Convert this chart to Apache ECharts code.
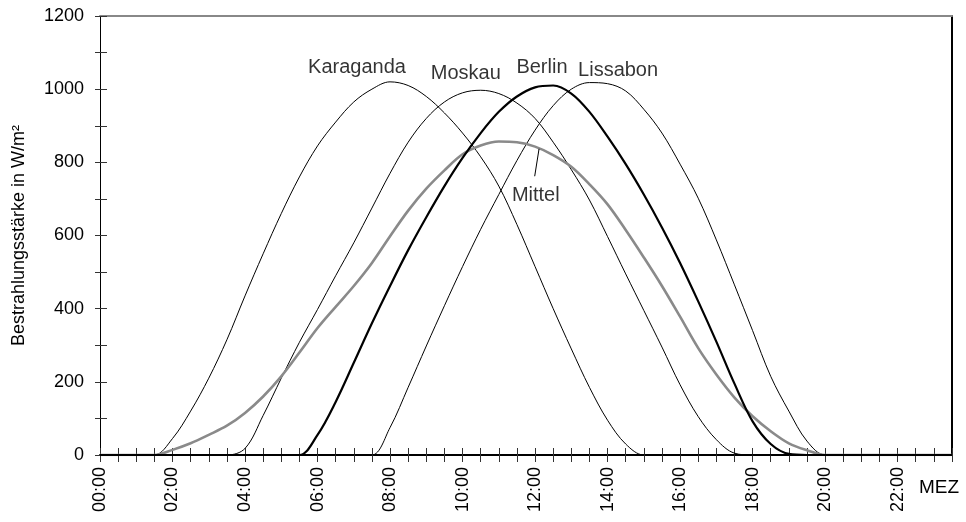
<!DOCTYPE html>
<html>
<head>
<meta charset="utf-8">
<script src="https://cdn.jsdelivr.net/npm/echarts@6/dist/echarts.min.js"></script>
<style>html,body{margin:0;padding:0;background:#fff}#c{width:966px;height:522px}</style>
</head>
<body>
<div id="c"></div>
<script>
// half-hour steps from 00:00 to 23:30
const hours = [0,0.5,1,1.5,2,2.5,3,3.5,4,4.5,5,5.5,6,6.5,7,7.5,8,8.5,9,9.5,10,10.5,11,11.5,12,12.5,13,13.5,14,14.5,15,15.5,16,16.5,17,17.5,18,18.5,19,19.5,20,20.5,21,21.5,22,22.5,23,23.5];
const karaganda = [0,0,0,0,45,120,210,315,435,550,660,760,845,910,965,1000,1020,1010,980,935,880,815,735,630,515,400,290,185,95,30,0,0,0,0,0,0,0,0,0,0,0,0,0,0,0,0,0,0];
const moskau    = [0,0,0,0,0,0,0,0,18,108,210,308,398,490,580,675,770,855,920,965,990,997,988,962,920,855,780,697,597,495,395,295,192,105,42,5,0,0,0,0,0,0,0,0,0,0,0,0];
const berlin    = [0,0,0,0,0,0,0,0,0,0,0,0,55,145,252,360,462,560,650,735,812,880,938,980,1005,1010,988,938,870,795,712,622,525,420,310,195,92,30,3,0,0,0,0,0,0,0,0,0];
const lissabon  = [0,0,0,0,0,0,0,0,0,0,0,0,0,0,0,0,75,185,298,408,515,617,712,805,888,955,1000,1018,1015,995,945,880,795,702,588,465,340,215,120,38,0,0,0,0,0,0,0,0];
const mittel    = [0,0,0,0,14,32,55,80,115,160,215,280,347,405,462,525,598,668,728,778,822,846,857,855,843,820,788,740,685,615,540,462,378,292,220,157,106,65,32,13,0,0,0,0,0,0,0,0];
const xTickLabels = ['00:00','02:00','04:00','06:00','08:00','10:00','12:00','14:00','16:00','18:00','20:00','22:00'];
const yTickLabels = [0,200,400,600,800,1000,1200];
const annotations = [
  {text:'Karaganda', at:[7.09,1060]},
  {text:'Moskau', at:[10.09,1044]},
  {text:'Berlin', at:[12.19,1058]},
  {text:'Lissabon', at:[14.29,1052]},
  {text:'Mittel', at:[12.02,710]}
];
const mittelLeader = [[11.99,762],[12.11,837]];

const FONT = "'Liberation Sans', Arial, sans-serif";
const pair = arr => hours.map((h,i)=>[h,arr[i]]);

const chart = echarts.init(document.getElementById('c'), null, {renderer:'canvas'});
const xBase = {type:'value', min:0, max:23.5, interval:0.5, gridIndex:0, splitLine:{show:false}};
const yBase = {type:'value', min:0, max:1200, interval:100, gridIndex:0, splitLine:{show:false}};

function lineSeries(name, arr, color, width, z){
  return {name, type:'line', data:pair(arr), xAxisIndex:0, yAxisIndex:0, smooth:0.35,
    symbol:'none', lineStyle:{color, width}, z, silent:true};
}

const series = [
  lineSeries('Karaganda', karaganda, '#000', 1, 3),
  lineSeries('Moskau', moskau, '#000', 1, 3),
  lineSeries('Lissabon', lissabon, '#000', 1, 3),
  lineSeries('Mittel', mittel, '#8a8a8a', 2.6, 4),
  lineSeries('Berlin', berlin, '#000', 2.2, 5),
  {type:'scatter', xAxisIndex:0, yAxisIndex:0, symbolSize:0, silent:true, z:6,
   data: annotations.map(a=>({value:a.at, name:a.text})),
   label:{show:true, position:'inside', formatter:p=>p.name, color:'#000', fontSize:20, fontFamily:FONT}},
  {type:'line', xAxisIndex:0, yAxisIndex:0, data:mittelLeader, symbol:'none', smooth:false,
   lineStyle:{color:'#000', width:1}, z:6, silent:true}
];

chart.setOption({
  animation:false,
  backgroundColor:'#fff',
  grid:{left:100, right:14, top:16, bottom:67, containLabel:false, outerBoundsMode:'none'},
  xAxis:[
    Object.assign({}, xBase, {position:'bottom',
      axisLine:{show:true, onZero:false, lineStyle:{color:'#000', width:2}},
      axisTick:{show:true, inside:false, length:7, lineStyle:{color:'#333', width:1}},
      axisLabel:{show:true, rotate:90, margin:12, fontSize:18, color:'#000', fontFamily:FONT,
        formatter:v=>{ if (v % 2 !== 0) return ''; const i=v/2; return xTickLabels[i]||''; }}}),
    Object.assign({}, xBase, {position:'bottom',
      axisLine:{show:false, onZero:false},
      axisTick:{show:true, inside:true, length:7, lineStyle:{color:'#333', width:1}},
      axisLabel:{show:false}}),
    Object.assign({}, xBase, {position:'top',
      axisLine:{show:true, onZero:false, lineStyle:{color:'#888', width:2}},
      axisTick:{show:false}, axisLabel:{show:false}})
  ],
  yAxis:[
    Object.assign({}, yBase, {position:'left',
      name:'Bestrahlungsstärke in W/m²', nameLocation:'middle', nameGap:72, nameRotate:90,
      nameTextStyle:{fontSize:18, color:'#000', fontFamily:FONT},
      axisLine:{show:true, onZero:false, lineStyle:{color:'#000', width:1}},
      axisTick:{show:true, inside:false, length:5, lineStyle:{color:'#333', width:1}},
      axisLabel:{show:true, margin:16, fontSize:18, color:'#000', fontFamily:FONT,
        formatter:v=> yTickLabels.indexOf(v) >= 0 ? String(v) : ''}}),
    Object.assign({}, yBase, {position:'left',
      axisLine:{show:false, onZero:false},
      axisTick:{show:true, inside:true, length:7, lineStyle:{color:'#333', width:1}},
      axisLabel:{show:false}}),
    Object.assign({}, yBase, {position:'right',
      axisLine:{show:true, onZero:false, lineStyle:{color:'#000', width:2}},
      axisTick:{show:false}, axisLabel:{show:false}})
  ],
  graphic:[
    {type:'text', left:919, top:478, style:{text:'MEZ', fontSize:19, fill:'#000', fontFamily:FONT}}
  ],
  series
});
</script>
</body>
</html>
